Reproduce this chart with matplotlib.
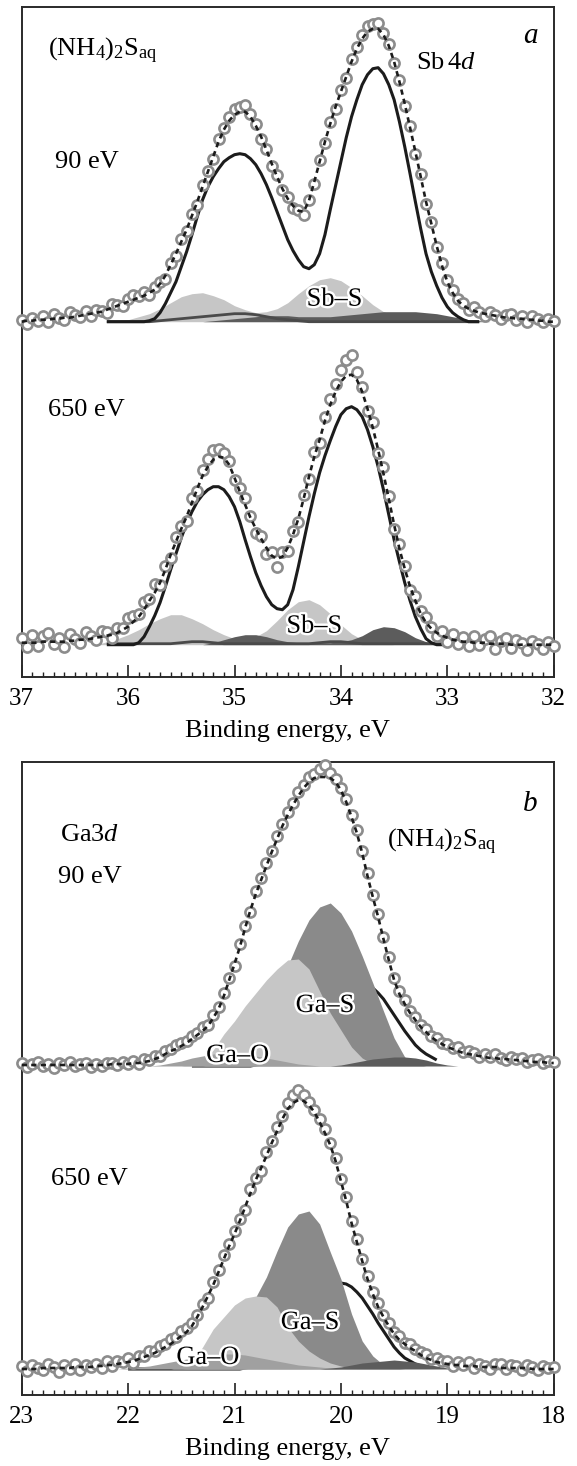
import matplotlib.pyplot as plt
import matplotlib.patheffects as pe
from matplotlib.ticker import MultipleLocator
import numpy as np

plt.rcParams['font.family'] = ['Liberation Serif', 'DejaVu Serif']
plt.rcParams['mathtext.fontset'] = 'custom'
plt.rcParams['mathtext.rm'] = 'Liberation Serif'
plt.rcParams['mathtext.it'] = 'Liberation Serif:italic'

# ---------------- panel a: Sb 4d ----------------
e_sb = np.linspace(37, 32, 101)      # 0.05 eV step
e_sb_fit = np.linspace(37, 32, 51)   # 0.1 eV step

sb90_data = [2, -2, 4, 1, 6, 0, 8, 4, 2, 10,
             7, 5, 11, 6, 12, 11, 9, 18, 17, 16,
             23, 27, 26, 30, 27, 35, 40, 43, 59, 66,
             83, 91, 108, 117, 137, 151, 163, 183, 194, 205,
             213, 215, 217, 208, 198, 183, 173, 156, 147, 132,
             125, 114, 112, 107, 122, 138, 162, 179, 200, 213,
             232, 244, 263, 275, 287, 296, 298, 299, 289, 278,
             259, 242, 216, 196, 168, 148, 118, 100, 75, 59,
             42, 32, 23, 19, 12, 15, 10, 6, 10, 7,
             3, 7, 8, 2, 6, 0, 6, 3, 0, 3, 1]
sb90_env = [0, 1, 1, 2, 2, 2, 3, 3, 4, 4,
            5, 6, 7, 8, 9, 10, 12, 14, 16, 18,
            20, 22, 24, 26, 29, 32, 38, 46, 57, 68,
            80, 92, 106, 120, 135, 150, 165, 180, 192, 201,
            207, 210, 210, 205, 196, 185, 172, 158, 145, 133,
            123, 116, 111, 110, 121, 140, 160, 180, 198, 215,
            230, 245, 260, 273, 283, 290, 293, 293, 287, 276,
            260, 240, 218, 194, 170, 145, 120, 98, 76, 56,
            40, 29, 21, 16, 13, 11, 9, 8, 7, 6,
            5, 4, 4, 3, 3, 2, 2, 1, 1, 0, 0]
sb90_bulk = [0] * 24 + [1, 3, 9, 18, 29, 40, 55, 70, 87, 105,
                        122, 135, 145, 153, 160, 164, 167, 168, 167, 163,
                        157, 148, 137, 124, 110, 96, 82, 71, 62, 55,
                        53, 57, 68, 87, 112, 136, 160, 184, 205, 222,
                        237, 247, 253, 254, 248, 237, 222, 200, 175, 148,
                        120, 93, 68, 50, 36, 24, 15, 9, 5, 2, 0] + [0] * 16
sb90_sbs = [0, 0, 0, 0, 0, 0, 0, 0, 0,
            1, 2, 5, 8, 13, 19, 25, 28, 29, 26, 22, 16, 12, 9, 10,
            13, 19, 28, 36, 42, 44, 41, 34, 26, 17, 10, 6, 3, 1,
            0, 0, 0, 0, 0, 0, 0, 0, 0, 0, 0, 0, 0]
sb90_dark = [0] * 18 + [1, 2, 3, 4, 5, 6, 6, 6, 5, 5, 5, 5, 6, 7, 8, 9, 10, 10,
                        10, 10, 9, 8, 6, 4, 2, 1] + [0] * 7
sb90_minor = [0] * 13 + [1, 2, 3, 4, 5, 6, 7, 8, 8, 7, 5, 3, 2, 1] + [0] * 24

sb650_data = [7, -2, 10, -1, 9, 12, 1, 7, -2, 11,
              6, 2, 13, 9, 5, 14, 13, 7, 17, 17,
              27, 29, 31, 43, 46, 61, 60, 79, 87, 108,
              119, 124, 147, 154, 175, 186, 195, 196, 192, 184,
              165, 157, 147, 129, 112, 109, 91, 93, 78, 93,
              94, 114, 123, 150, 166, 193, 202, 228, 246, 261,
              275, 285, 290, 273, 258, 234, 223, 192, 178, 149,
              116, 101, 79, 55, 49, 34, 28, 18, 9, 14,
              3, 11, 1, 8, -1, 9, 0, 6, 9, -4,
              4, 7, -3, 5, 2, -5, 4, 1, -4, 3, -1]
sb650_env = [2, 2, 2, 2, 3, 3, 3, 3, 3, 4,
             4, 5, 5, 6, 7, 8, 9, 10, 12, 15,
             18, 23, 28, 35, 44, 52, 62, 75, 90, 103,
             116, 128, 142, 156, 169, 178, 185, 188, 187, 180,
             167, 153, 140, 127, 116, 106, 97, 89, 86, 88,
             97, 110, 126, 146, 168, 188, 205, 224, 240, 253,
             263, 269, 270, 265, 253, 236, 217, 195, 171, 146,
             120, 96, 76, 58, 44, 31, 22, 16, 12, 9,
             7, 5, 4, 3, 3, 2, 2, 2, 1, 1,
             1, 1, 0, 0, 0, 0, 0, 0, 0, 0, 0]
sb650_bulk = [0] * 21 + [0, 2, 8, 18, 29, 42, 58, 75, 91, 107,
                         121, 133, 143, 150, 155, 158, 158, 155, 148, 138,
                         123, 105, 88, 72, 59, 48, 40, 36, 35, 40,
                         55, 78, 103, 128, 151, 172, 189, 204, 218, 230,
                         236, 238, 235, 228, 215, 198, 178, 155, 130, 105,
                         83, 62, 44, 28, 16, 6, 2, 0] + [0] * 22
sb650_sbs = [0] * 8 + [3, 6, 10, 15, 21, 26, 30, 30, 26, 21, 15, 10, 6, 6, 8, 14,
                       24, 35, 43, 45, 40, 31, 20, 11, 5, 2, 1] + [0] * 16
sb650_dark = [0] * 18 + [2, 5, 8, 10, 10, 8, 5, 3, 2, 2, 2, 2, 3, 5, 9, 15, 18, 17,
                         13, 7, 3, 1] + [0] * 11
sb650_minor = [0] * 8 + [1, 1, 1, 1, 1, 1, 1, 2, 3, 3, 2,
                         1, 1, 1, 1, 1, 1, 1, 1, 1, 2, 3, 3, 2,
                         1, 1, 1, 1, 1, 1, 1, 1, 1] + [0] * 10

# ---------------- panel b: Ga 3d ----------------
e_ga = np.linspace(23, 18, 101)
e_ga_fit = np.linspace(23, 18, 51)

ga90_data = [3, -1, 2, 4, 0, 2, -2, 3, 1, 4,
             0, 2, 3, -1, 2, 0, 3, 3, 1, 4,
             2, 5, 2, 7, 6, 10, 10, 15, 17, 21,
             23, 25, 30, 33, 39, 41, 51, 59, 73, 88,
             100, 122, 140, 154, 175, 188, 203, 215, 230, 242,
             254, 263, 274, 281, 289, 292, 297, 301, 293, 287,
             278, 267, 251, 236, 215, 193, 171, 152, 129, 109,
             88, 75, 66, 55, 49, 41, 37, 30, 28, 23,
             22, 18, 19, 14, 15, 13, 9, 12, 9, 12,
             8, 6, 9, 7, 8, 4, 6, 7, 3, 5, 4]
ga90_env = [1, 1, 1, 1, 1, 1, 1, 1, 1, 1,
            1, 1, 1, 1, 1, 1, 1, 2, 2, 2,
            2, 3, 3, 4, 5, 7, 9, 12, 15, 17,
            20, 23, 27, 31, 35, 40, 48, 57, 70, 86,
            102, 119, 138, 156, 172, 186, 200, 214, 227, 240,
            251, 261, 270, 278, 284, 288, 289, 289, 288, 284,
            276, 264, 249, 233, 213, 190, 169, 149, 127, 106,
            86, 72, 62, 53, 46, 39, 34, 29, 25, 22,
            19, 17, 15, 13, 12, 11, 10, 9, 8, 8,
            7, 7, 6, 6, 5, 5, 4, 4, 4, 3, 3]
ga90_bulk = [0] * 43 + [0, 1, 2, 3, 5, 8, 12, 16, 21, 27,
                        33, 40, 48, 55, 61, 66, 71, 75, 78, 80,
                        81, 81, 80, 78, 73, 67, 59, 51, 43, 35,
                        28, 21, 16, 12, 9, 6, 4, 2, 1, 0] + [0] * 18
ga90_gas = [0] * 18 + [2, 5, 10, 19, 32, 50, 73, 100, 125, 146, 159, 163, 153, 135,
                       110, 83, 55, 28, 9, 2] + [0] * 13
ga90_light = [0] * 16 + [2, 6, 16, 32, 45, 60, 73, 86, 97, 106, 107, 97, 75, 53,
                         36, 19, 8, 2] + [0] * 17
ga90_gao = [0] * 13 + [1, 3, 5, 8, 10, 12, 13, 13, 12, 10, 8, 6, 4, 2, 1] + [0] * 23
ga90_dark = [0] * 30 + [1, 3, 5, 7, 8, 9, 9, 8, 6, 3, 1] + [0] * 10

ga650_data = [3, -2, 4, 1, -1, 5, 2, -3, 4, 0,
              5, -1, 4, 2, 5, 1, 8, 3, 8, 7,
              11, 6, 13, 13, 18, 18, 23, 25, 30, 32,
              38, 41, 46, 54, 65, 71, 87, 99, 114, 125,
              138, 150, 159, 180, 191, 198, 217, 228, 242, 253,
              266, 274, 279, 274, 267, 259, 250, 240, 226, 211,
              190, 172, 148, 130, 110, 93, 77, 66, 54, 46,
              37, 33, 26, 25, 20, 17, 15, 10, 11, 8,
              8, 3, 7, 4, 7, 1, 5, 3, 0, 5,
              5, 0, 4, 3, -1, 4, 2, -1, 3, 1, 2]
ga650_env = [0, 0, 0, 0, 1, 1, 1, 1, 1, 1,
             2, 2, 2, 2, 3, 3, 4, 4, 5, 6,
             7, 8, 10, 12, 14, 16, 19, 22, 25, 29,
             33, 37, 43, 52, 62, 73, 84, 97, 110, 123,
             135, 148, 162, 176, 189, 201, 213, 226, 238, 250,
             260, 266, 269, 268, 264, 257, 247, 236, 224, 208,
             188, 168, 146, 127, 108, 90, 75, 62, 52, 43,
             35, 29, 25, 21, 18, 14, 11, 9, 7, 6,
             5, 4, 4, 3, 3, 3, 2, 2, 2, 2,
             1, 1, 1, 1, 1, 1, 0, 0, 0, 0, 0]
ga650_bulk = [0] * 42 + [1, 2, 3, 5, 7, 9, 12, 16, 20, 30,
                         40, 49, 58, 65, 72, 77, 82, 84, 86, 85,
                         82, 77, 71, 63, 55, 46, 38, 30, 22, 16,
                         11, 8, 5, 3, 2, 1, 0] + [0] * 22
ga650_gas = [0] * 16 + [1, 4, 10, 20, 34, 52, 72, 92, 118, 142, 155, 158, 145, 117,
                        90, 55, 28, 13, 4, 1] + [0] * 15
ga650_light = [0] * 15 + [2, 6, 22, 40, 52, 64, 71, 73, 72, 62, 42, 28, 18, 11,
                          6, 3, 1] + [0] * 19
ga650_gao = [0] * 10 + [1, 2, 3, 5, 7, 9, 11, 13, 14, 15, 15, 14, 12, 10, 8, 6,
                        4, 3, 2, 1] + [0] * 21
ga650_dark = [0] * 29 + [1, 2, 4, 6, 7, 8, 9, 8, 7, 5, 3, 1] + [0] * 10

# ---------------- figure ----------------
fig = plt.figure(figsize=(5.77, 14.66), dpi=100)
W, H = 577, 1466
ax_a = fig.add_axes([21.7 / W, (H - 676.7) / H, 532 / W, 669.7 / H])
ax_b = fig.add_axes([21.7 / W, (H - 1395) / H, 532 / W, 633.3 / H])

C_LIGHT = '#c6c6c6'
C_MID = '#8a8a8a'
C_GAO = '#a0a0a0'
C_DARK = '#5c5c5c'
C_LINE = '#1c1c1c'
C_PT = '#8c8c8c'


def points(ax, e, data, env, off):
    ax.plot(e, off + np.array(data), 'o', ms=7.3, mfc='white', mec=C_PT,
            mew=1.9, zorder=4, clip_on=False)
    ax.plot(e, off + np.array(env), color=C_LINE, lw=1.9, dashes=(2.0, 1.6),
            zorder=5, clip_on=False)


def fill(ax, e, y, off, color, z):
    ax.fill_between(e, off, off + np.array(y), color=color, lw=0, zorder=z)


def line(ax, e, y, off, lo, hi, color, lw, z):
    m = (e >= lo - 1e-9) & (e <= hi + 1e-9)
    ax.plot(e[m], off + np.array(y)[m], color=color, lw=lw, zorder=z,
            solid_capstyle='butt', solid_joinstyle='round')


def label(ax, x, y, s):
    ax.text(x, y, s, fontsize=19, ha='center', va='center', zorder=7,
            path_effects=[pe.withStroke(linewidth=3.5, foreground='white')])


# panel a
for off, data, env, bulk, sbs, dark, minor, lo in [
        (355, sb90_data, sb90_env, sb90_bulk, sb90_sbs, sb90_dark, sb90_minor, 32.7),
        (32, sb650_data, sb650_env, sb650_bulk, sb650_sbs, sb650_dark, sb650_minor, 33.0)]:
    fill(ax_a, e_sb_fit, sbs, off, C_LIGHT, 2)
    fill(ax_a, e_sb_fit, dark, off, C_DARK, 2.3)
    line(ax_a, e_sb_fit, minor, off, lo, 36.2, '#4a4a4a', 2.0, 2.5)
    line(ax_a, e_sb, bulk, off, lo, 36.2, C_LINE, 2.2, 3)
    points(ax_a, e_sb, data, env, off)

label(ax_a, 34.06, 377, 'Sb–S')
label(ax_a, 34.25, 50, 'Sb–S')
ax_a.text(36.75, 620, r'(NH$_4$)$_2$S$_{\rm aq}$', fontsize=19, va='baseline')
ax_a.text(33.29, 608, r'Sb$\,$4$d$', fontsize=19, va='baseline')
ax_a.text(32.22, 634, 'a', fontsize=21, style='italic', ha='center', va='baseline')
ax_a.text(36.69, 509, '90 eV', fontsize=19, va='baseline')
ax_a.text(36.75, 261, '650 eV', fontsize=19, va='baseline')
ax_a.set_xlim(37, 32)
ax_a.set_ylim(0, 669.7)

# panel b
for off, data, env, bulk, gas, light, gao, dark, lo, hi in [
        (329, ga90_data, ga90_env, ga90_bulk, ga90_gas, ga90_light, ga90_gao, ga90_dark, 19.1, 21.4),
        (26, ga650_data, ga650_env, ga650_bulk, ga650_gas, ga650_light, ga650_gao, ga650_dark, 19.2, 22.0)]:
    line(ax_b, e_ga, bulk, off, lo, hi, C_LINE, 2.2, 1.5)
    fill(ax_b, e_ga_fit, gas, off, C_MID, 2)
    fill(ax_b, e_ga_fit, light, off, C_LIGHT, 2.2)
    fill(ax_b, e_ga_fit, gao, off, C_GAO, 2.4)
    fill(ax_b, e_ga_fit, dark, off, C_DARK, 2.6)
    points(ax_b, e_ga, data, env, off)

label(ax_b, 20.15, 389, 'Ga–S')
label(ax_b, 20.97, 339, 'Ga–O')
label(ax_b, 20.29, 72, 'Ga–S')
label(ax_b, 21.25, 37, 'Ga–O')
ax_b.text(18.22, 584, 'b', fontsize=21, style='italic', ha='center', va='baseline')
ax_b.text(22.64, 554, r'Ga3$d$', fontsize=19, va='baseline')
ax_b.text(22.66, 512, '90 eV', fontsize=19, va='baseline')
ax_b.text(19.57, 548, r'(NH$_4$)$_2$S$_{\rm aq}$', fontsize=19, va='baseline')
ax_b.text(22.72, 210, '650 eV', fontsize=19, va='baseline')
ax_b.set_xlim(23, 18)
ax_b.set_ylim(0, 633.3)

for ax in (ax_a, ax_b):
    ax.xaxis.set_major_locator(MultipleLocator(1))
    ax.xaxis.set_minor_locator(MultipleLocator(0.1))
    ax.xaxis.set_major_formatter(plt.FuncFormatter(lambda v, p: '%d' % round(v)))
    ax.tick_params(axis='x', which='both', direction='in', top=False,
                   labelsize=18, pad=8, color='#222222')
    ax.tick_params(axis='x', which='major', length=8.5, width=1.2)
    ax.tick_params(axis='x', which='minor', length=3.6, width=1.0)
    ax.set_yticks([])
    for s in ax.spines.values():
        s.set_linewidth(1.4)
        s.set_color('#2a2a2a')
    ax.set_xlabel('Binding energy, eV', fontsize=19, labelpad=7)

fig.savefig('out.png', dpi=100)
